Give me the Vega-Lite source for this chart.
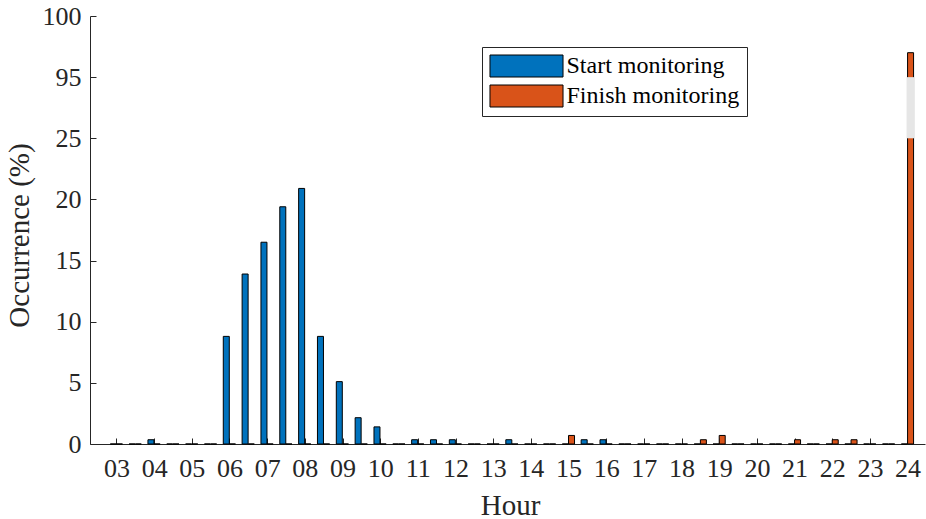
{
  "$schema": "https://vega.github.io/schema/vega-lite/v6.json",
  "width": 835,
  "height": 428,
  "autosize": {"type": "none"},
  "padding": {"left": 90, "top": 16, "right": 1, "bottom": 75},
  "background": "white",
  "config": {
    "view": {"stroke": null},
    "font": "Liberation Serif",
    "axis": {
      "grid": false,
      "domainColor": "#262626",
      "tickColor": "#262626",
      "labelColor": "#262626",
      "titleColor": "#262626",
      "labelFont": "Liberation Serif",
      "titleFont": "Liberation Serif",
      "labelFontSize": 26,
      "titleFontSize": 29,
      "titleFontWeight": "normal",
      "tickSize": -6
    },
    "legend": {
      "labelFont": "Liberation Serif",
      "labelFontSize": 24,
      "labelColor": "black",
      "labelLimit": 400
    }
  },
  "datasets": {
    "halfHourly": [
      {"h": 3, "Start monitoring": 0, "Finish monitoring": 0},
      {"h": 3.5, "Start monitoring": 0, "Finish monitoring": 0},
      {"h": 4, "Start monitoring": 0.35, "Finish monitoring": 0},
      {"h": 4.5, "Start monitoring": 0, "Finish monitoring": 0},
      {"h": 5, "Start monitoring": 0, "Finish monitoring": 0},
      {"h": 5.5, "Start monitoring": 0, "Finish monitoring": 0},
      {"h": 6, "Start monitoring": 8.8, "Finish monitoring": 0},
      {"h": 6.5, "Start monitoring": 13.9, "Finish monitoring": 0},
      {"h": 7, "Start monitoring": 16.5, "Finish monitoring": 0},
      {"h": 7.5, "Start monitoring": 19.4, "Finish monitoring": 0},
      {"h": 8, "Start monitoring": 20.9, "Finish monitoring": 0},
      {"h": 8.5, "Start monitoring": 8.8, "Finish monitoring": 0},
      {"h": 9, "Start monitoring": 5.1, "Finish monitoring": 0},
      {"h": 9.5, "Start monitoring": 2.15, "Finish monitoring": 0},
      {"h": 10, "Start monitoring": 1.4, "Finish monitoring": 0},
      {"h": 10.5, "Start monitoring": 0, "Finish monitoring": 0},
      {"h": 11, "Start monitoring": 0.35, "Finish monitoring": 0},
      {"h": 11.5, "Start monitoring": 0.35, "Finish monitoring": 0},
      {"h": 12, "Start monitoring": 0.35, "Finish monitoring": 0},
      {"h": 12.5, "Start monitoring": 0, "Finish monitoring": 0},
      {"h": 13, "Start monitoring": 0, "Finish monitoring": 0},
      {"h": 13.5, "Start monitoring": 0.35, "Finish monitoring": 0},
      {"h": 14, "Start monitoring": 0, "Finish monitoring": 0},
      {"h": 14.5, "Start monitoring": 0, "Finish monitoring": 0},
      {"h": 15, "Start monitoring": 0, "Finish monitoring": 0.7},
      {"h": 15.5, "Start monitoring": 0.35, "Finish monitoring": 0},
      {"h": 16, "Start monitoring": 0.35, "Finish monitoring": 0},
      {"h": 16.5, "Start monitoring": 0, "Finish monitoring": 0},
      {"h": 17, "Start monitoring": 0, "Finish monitoring": 0},
      {"h": 17.5, "Start monitoring": 0, "Finish monitoring": 0},
      {"h": 18, "Start monitoring": 0, "Finish monitoring": 0},
      {"h": 18.5, "Start monitoring": 0, "Finish monitoring": 0.35},
      {"h": 19, "Start monitoring": 0, "Finish monitoring": 0.7},
      {"h": 19.5, "Start monitoring": 0, "Finish monitoring": 0},
      {"h": 20, "Start monitoring": 0, "Finish monitoring": 0},
      {"h": 20.5, "Start monitoring": 0, "Finish monitoring": 0},
      {"h": 21, "Start monitoring": 0, "Finish monitoring": 0.35},
      {"h": 21.5, "Start monitoring": 0, "Finish monitoring": 0},
      {"h": 22, "Start monitoring": 0, "Finish monitoring": 0.35},
      {"h": 22.5, "Start monitoring": 0, "Finish monitoring": 0.35},
      {"h": 23, "Start monitoring": 0, "Finish monitoring": 0},
      {"h": 23.5, "Start monitoring": 0, "Finish monitoring": 0},
      {"h": 24, "Start monitoring": 0, "Finish monitoring": 97.0}
    ],
    "axisBreak": [
      {"h": 24, "pct": 25, "pct2": 95}
    ]
  },
  "encoding": {
    "x": {
      "field": "h",
      "type": "quantitative",
      "scale": {"domain": [2.43, 24.33], "nice": false, "zero": false},
      "axis": {
        "title": "Hour",
        "values": [3, 4, 5, 6, 7, 8, 9, 10, 11, 12, 13, 14, 15, 16, 17, 18, 19, 20, 21, 22, 23, 24],
        "format": "02d",
        "labelPadding": 17,
        "labelOverlap": false,
        "labelFlush": false,
        "titleX": 420,
        "titlePadding": 10
      }
    },
    "y": {
      "field": "pct",
      "type": "quantitative",
      "scale": {
        "domain": [0, 25, 95, 100],
        "range": [428, 122.29, 61.14, 0],
        "nice": false,
        "zero": false
      },
      "axis": {
        "title": "Occurrence (%)",
        "values": [0, 5, 10, 15, 20, 25, 95, 100],
        "labelPadding": 15,
        "labelOverlap": false,
        "labelFlush": false,
        "titleX": -56,
        "titleY": 219,
        "titleAngle": -90,
        "titleBaseline": "bottom"
      }
    }
  },
  "layer": [
    {
      "data": {"name": "halfHourly"},
      "transform": [
        {"fold": ["Start monitoring", "Finish monitoring"], "as": ["series", "pct"]},
        {"filter": "datum.series === 'Start monitoring'"}
      ],
      "mark": {"type": "bar", "width": 6, "xOffset": -3.2, "stroke": "black", "strokeWidth": 1, "opacity": 1},
      "encoding": {
        "color": {
          "field": "series",
          "type": "nominal",
          "scale": {
            "domain": ["Start monitoring", "Finish monitoring"],
            "range": ["#0072BD", "#D95319"]
          },
          "legend": {
            "title": null,
            "orient": "none",
            "legendX": 392,
            "legendY": 31,
            "padding": 7,
            "strokeColor": "#262626",
            "fillColor": "white",
            "symbolType": "M-3.32,-1H3.32V1H-3.32Z",
            "symbolSize": 484,
            "symbolOffset": 25.5,
            "symbolStrokeColor": "#262626",
            "symbolStrokeWidth": 1,
            "symbolOpacity": 1,
            "labelOffset": 28,
            "rowPadding": 4
          }
        }
      }
    },
    {
      "data": {"name": "halfHourly"},
      "transform": [
        {"fold": ["Start monitoring", "Finish monitoring"], "as": ["series", "pct"]},
        {"filter": "datum.series === 'Finish monitoring'"}
      ],
      "mark": {"type": "bar", "width": 6, "xOffset": 3, "stroke": "black", "strokeWidth": 1, "opacity": 1},
      "encoding": {
        "color": {"field": "series", "type": "nominal"}
      }
    },
    {
      "data": {"name": "axisBreak"},
      "mark": {"type": "bar", "width": 8, "xOffset": 3, "fill": "#e6e6e6", "strokeWidth": 0},
      "encoding": {
        "y2": {"field": "pct2"}
      }
    }
  ]
}
